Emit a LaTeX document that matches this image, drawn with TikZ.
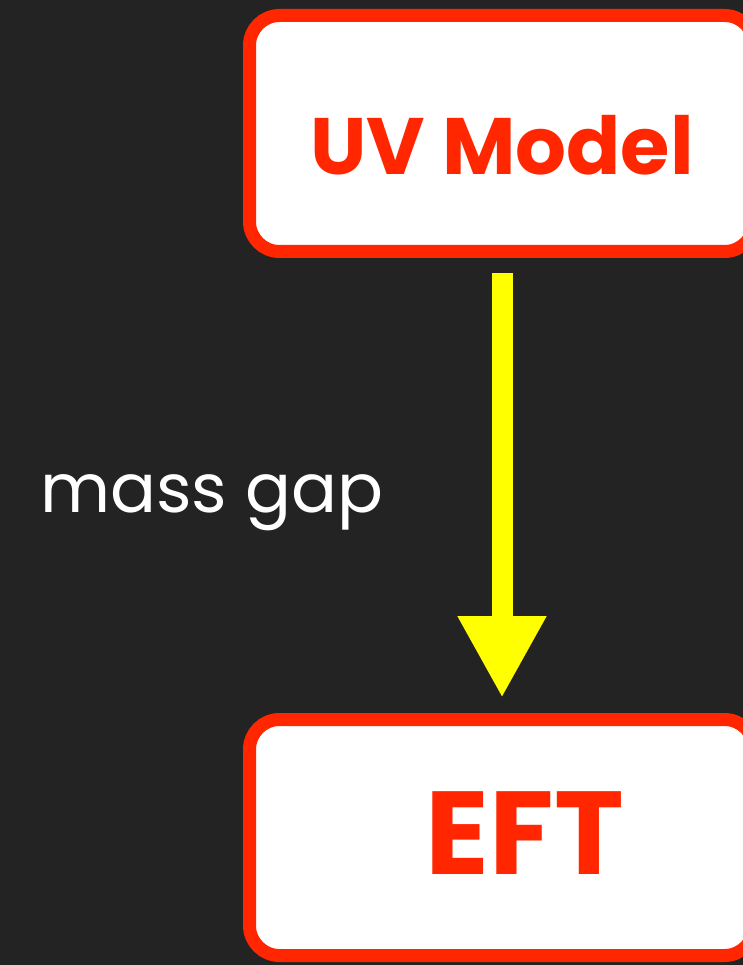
\documentclass[tikz,border=0pt]{standalone}
\usepackage{fontspec}
\setmainfont{Poppins}
\usepackage{tikz}
\usetikzlibrary{positioning, arrows.meta}

\definecolor{bgdark}{HTML}{232323}
\definecolor{boxred}{HTML}{FF2600}
\definecolor{gapyellow}{HTML}{FFFF00}

\begin{document}
\begin{tikzpicture}[x=1pt, y=-1pt]
    \tikzstyle{modelbox} = [rectangle, rounded corners=30pt, minimum width=505pt, minimum height=236pt, align=center, draw=boxred, line width=13pt, fill=white, text=boxred, text depth=0pt, font=\bfseries]
    \tikzstyle{gaplabel} = [text=white, inner sep=0pt, anchor=base west, font=\fontsize{68}{76}\selectfont]
    \tikzstyle{arrow} = [gapyellow, line width=21pt, -{Triangle[width=83pt, length=82pt]}, shorten <=15pt, shorten >=15pt]

    \fill[bgdark] (0,0) rectangle (743,965);
    \useasboundingbox (0,0) rectangle (743,965);

    \node (uv) [modelbox, text height=83pt] at (502,133.5) {\fontsize{80}{90}\selectfont UV Model};
    \node (eft) [modelbox, text height=74pt, below=455pt of uv] {\fontsize{118}{120}\selectfont\hspace*{46pt}EFT};
    \node (gap) [gaplabel] at (40,512) {mass gap};

    \draw [arrow] (uv) -- (eft);
\end{tikzpicture}
\end{document}
